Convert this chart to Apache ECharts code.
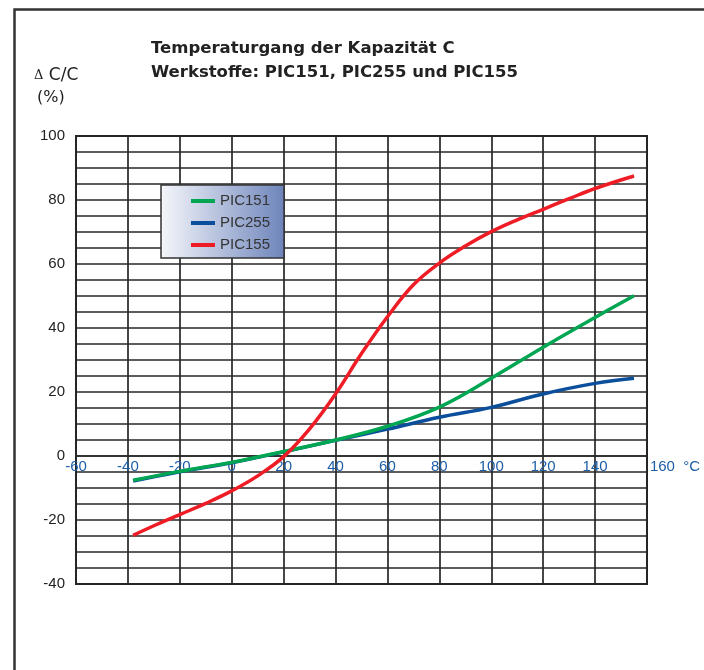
<!DOCTYPE html>
<html>
<head>
<meta charset="utf-8">
<script src="https://cdn.jsdelivr.net/npm/echarts@6/dist/echarts.min.js"></script>
<style>
html,body{margin:0;padding:0;background:#fff;}
#c{width:704px;height:670px;}
</style>
</head>
<body>
<div id="c"></div>
<script>
// Data (temperature °C, ΔC/C %)
var seriesNames = ['PIC151', 'PIC255', 'PIC155'];
var tempPIC151 = [-38, -20, 0, 20, 40, 60, 80, 100, 120, 140, 155];
var valPIC151 = [-7.6, -4.8, -2.0, 1.4, 5.0, 9.3, 15.3, 24.3, 34.0, 43.3, 50.1];
var tempPIC255 = [-38, -20, 0, 20, 40, 60, 80, 100, 120, 140, 155];
var valPIC255 = [-7.8, -4.9, -2.1, 1.3, 4.9, 8.4, 12.1, 15.2, 19.4, 22.7, 24.3];
var tempPIC155 = [-38, -30, -20, -10, 0, 10, 20, 30, 40, 50, 60, 70, 80, 90, 100, 110, 120, 130, 140, 155];
var valPIC155 = [-24.8, -21.8, -18.3, -14.8, -10.9, -6.2, -0.2, 8.5, 19.4, 32.0, 43.5, 53.5, 60.3, 65.6, 70.1, 73.8, 77.1, 80.4, 83.6, 87.5];
var xTicks = [-60, -40, -20, 0, 20, 40, 60, 80, 100, 120, 140, 160];
var yTickLabels = [-40, -20, 0, 20, 40, 60, 80, 100];
var titleLines = ['Temperaturgang der Kapazität C', 'Werkstoffe: PIC151, PIC255 und PIC155'];
var yUnitLines = ['C/C', '(%)'];
var xUnit = '°C';

function pairs(xs, ys) { return xs.map(function (x, i) { return [x, ys[i]]; }); }

var FONT = '"Liberation Sans", Arial, sans-serif';
var WIDE = '"DejaVu Sans", sans-serif';
var GRIDC = '#262626';

var W = 704, H = 670;
var gridTop = 136, gridBottom = 86;
var yMin = yTickLabels[0], yMax = yTickLabels[yTickLabels.length - 1];
var gridH = H - gridTop - gridBottom;
// move the x axis up onto the value 0 of the y scale
var zeroOffset = -gridH * (0 - yMin) / (yMax - yMin);

var chart = echarts.init(document.getElementById('c'), null, { renderer: 'canvas' });
chart.setOption({
  backgroundColor: '#ffffff',
  animation: false,
  title: {
    text: titleLines.join('\n'),
    left: 146, top: 32,
    textStyle: { fontFamily: WIDE, fontSize: 16.5, fontWeight: 'bold', color: '#222', lineHeight: 24 }
  },
  graphic: [
    { type: 'rect', left: 12, top: 7, shape: { width: 720, height: 700 },
      style: { fill: 'none', stroke: '#333', lineWidth: 2.5 }, silent: true },
    { type: 'text', left: 34, top: 67,
      style: { text: '{d|Δ} ' + yUnitLines[0], fill: '#222', font: '17px ' + WIDE,
        rich: { d: { fontFamily: '"DejaVu Serif", serif', fontSize: 13, fill: '#222' } } } },
    { type: 'text', left: 37, top: 90,
      style: { text: yUnitLines[1], fill: '#222', font: '16px ' + WIDE } }
  ],
  legend: {
    orient: 'vertical',
    left: 161, top: 185,
    padding: [8, 14, 5, 30],
    itemGap: 6,
    itemWidth: 24, itemHeight: 4,
    icon: 'rect',
    data: seriesNames,
    backgroundColor: new echarts.graphic.LinearGradient(0, 0, 1, 0, [
      { offset: 0, color: '#f6f7fb' }, { offset: 1, color: '#6d84bb' }
    ]),
    borderColor: '#333', borderWidth: 1.5,
    textStyle: { fontFamily: FONT, fontSize: 15, color: '#333', lineHeight: 16 }
  },
  grid: {
    left: 76, right: 57, top: gridTop, bottom: gridBottom,
    show: true, borderColor: GRIDC, borderWidth: 2, backgroundColor: 'transparent'
  },
  xAxis: {
    type: 'value', min: xTicks[0], max: xTicks[xTicks.length - 1], interval: 20,
    position: 'bottom',
    offset: zeroOffset,
    axisLine: { onZero: false, lineStyle: { color: GRIDC, width: 1.7 } },
    axisTick: { show: false },
    splitLine: { show: true, lineStyle: { color: GRIDC, width: 1.7 } },
    axisLabel: {
      margin: 3, showMinLabel: true, showMaxLabel: true,
      fontFamily: FONT, fontSize: 15, color: '#1d5ea8',
      formatter: function (v) {
        if (xTicks.indexOf(v) < 0) return '';
        if (v === xTicks[xTicks.length - 1]) return '{u|' + v + '  ' + xUnit + '}';
        return String(v);
      },
      rich: { u: { fontFamily: FONT, fontSize: 15, color: '#1d5ea8', padding: [0, 0, 0, 56] } }
    }
  },
  yAxis: {
    type: 'value', min: yMin, max: yMax, interval: 5,
    axisLine: { show: true, onZero: false, lineStyle: { color: GRIDC, width: 1.7 } },
    axisTick: { show: false },
    splitLine: { show: true, lineStyle: { color: GRIDC, width: 1.7 } },
    axisLabel: {
      margin: 11, fontFamily: FONT, fontSize: 15, color: '#222',
      formatter: function (v) { return yTickLabels.indexOf(v) >= 0 ? String(v) : ''; }
    }
  },
  series: [
    { name: 'PIC151', type: 'line', smooth: 0.4, showSymbol: false, z: 3,
      data: pairs(tempPIC151, valPIC151),
      itemStyle: { color: '#00a651' }, lineStyle: { color: '#00a651', width: 3.5 } },
    { name: 'PIC255', type: 'line', smooth: 0.4, showSymbol: false, z: 2,
      data: pairs(tempPIC255, valPIC255),
      itemStyle: { color: '#0b4f9c' }, lineStyle: { color: '#0b4f9c', width: 3.5 } },
    { name: 'PIC155', type: 'line', smooth: 0.4, showSymbol: false, z: 4,
      data: pairs(tempPIC155, valPIC155),
      itemStyle: { color: '#ee1c25' }, lineStyle: { color: '#ee1c25', width: 3.5 } }
  ]
});
</script>
</body>
</html>
